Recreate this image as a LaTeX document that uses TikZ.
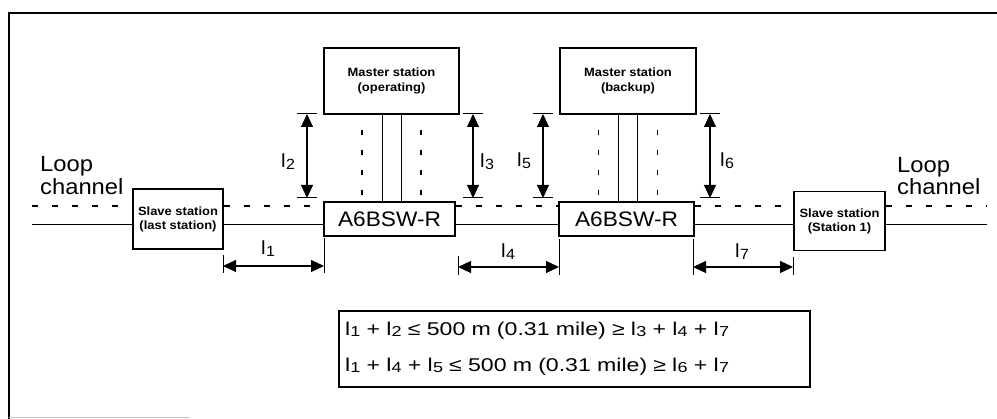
\documentclass[tikz,border=0pt]{standalone}
\usepackage{fontspec}
\setmainfont{Liberation Sans}[FakeStretch=1.08]
\newfontfamily\formfont{Liberation Sans}[FakeStretch=1.25, WordSpace=1.38]
\usetikzlibrary{arrows.meta}
\newcommand{\lsub}[1]{l\kern0.3pt\raisebox{-0.06em}{\scalebox{0.78}{#1}}}
\begin{document}
\begin{tikzpicture}[x=1pt,y=-1pt,
  box/.style={draw, line width=1.2pt, fill=white, inner sep=0pt, align=center},
  mbox/.style={box, minimum height=66pt, font=\bfseries\fontsize{12}{15}\selectfont},
  sbox/.style={box, font=\bfseries\fontsize{12}{14}\selectfont},
  swbox/.style={box, minimum height=34pt, font=\fontsize{21}{24}\selectfont},
  loopline/.style={line width=1pt},
  dashloop/.style={line width=1.2pt, dash pattern=on 6pt off 14pt},
  vdot/.style={line width=1.2pt, dash pattern=on 5pt off 15pt, dash phase=-15pt},
  dimline/.style={line width=1.1pt, {Triangle[length=13pt,width=12pt]}-{Triangle[length=13pt,width=12pt]}},
  tick/.style={line width=1pt},
  lbl/.style={inner sep=0pt, anchor=base west, font=\fontsize{19}{22}\selectfont},
  big/.style={inner sep=0pt, anchor=base west, font=\fontsize{22}{24}\selectfont}
]
\useasboundingbox (0,0) rectangle (997,419);
% frame
\draw[line width=2.5pt] (9,419) -- (9,13) -- (997,13);
\draw[gray!45, line width=1pt] (9,418) -- (190,418);

% nodes
\node[mbox, minimum width=135pt] (mop) at (391.5,81) {Master station\\(operating)};
\node[mbox, minimum width=136pt] (mbk) at (628,81) {Master station\\(backup)};
\node[swbox, minimum width=131pt] (swl) at (389.5,219) {A6BSW-R};
\node[swbox, minimum width=135pt] (swr) at (626.5,219) {A6BSW-R};
\node[sbox, minimum width=90pt, minimum height=60pt] (sl) at (178,219) {Slave station\\(last station)};
\node[sbox, minimum width=91pt, minimum height=59pt] (s1) at (839.5,221) {Slave station\\(Station 1)};

% loop channel labels
\node[big] (loopL) at (40,172) {Loop};
\node[big] (chanL) at (40,195) {channel};
\node[big] (loopR) at (897,173) {Loop};
\node[big] (chanR) at (897,195) {channel};

% solid loop line
\coordinate (LL) at (32,225);
\coordinate (RR) at (987,225);
\draw[loopline] (LL) -- (LL -| sl.west);
\draw[loopline] (sl.east |- LL) -- (swl.west |- LL);
\draw[loopline] (swl.east |- LL) -- (swr.west |- LL);
\draw[loopline] (swr.east |- LL) -- (s1.west |- LL);
\draw[loopline] (s1.east |- LL) -- (RR);

% dashed loop line
\coordinate (DL) at (32,206);
\coordinate (DR) at (987,206);
\draw[dashloop] (DL) -- (DL -| sl.west);
\draw[dashloop] (sl.east |- DL) -- (swl.west |- DL);
\draw[dashloop] (swl.east |- DL) -- (swr.west |- DL);
\draw[dashloop] (swr.east |- DL) -- (s1.west |- DL);
\draw[dashloop] (s1.east |- DL) -- (DR);

% master to switch links
\foreach \m/\s in {mop/swl, mbk/swr}{
  \draw[loopline] ([xshift=-9.5pt]\m.south) -- ([xshift=-9.5pt]\m.south |- \s.north);
  \draw[loopline] ([xshift=9.5pt]\m.south) -- ([xshift=9.5pt]\m.south |- \s.north);
  \draw[vdot] ([xshift=-29.5pt]\m.south) -- ([xshift=-29.5pt]\m.south |- \s.north);
  \draw[vdot] ([xshift=29.5pt]\m.south) -- ([xshift=29.5pt]\m.south |- \s.north);
}

% vertical dimensions
\foreach \n/\x in {2/307, 3/473, 5/543, 6/710}{
  \coordinate (v\n t) at (\x,114);
  \coordinate (v\n b) at (\x,198);
  \draw[dimline] (v\n t) -- (v\n b);
  \draw[tick] ([xshift=-10pt]v\n t) -- ([xshift=10pt]v\n t);
  \draw[tick] ([xshift=-10pt]v\n b) -- ([xshift=10pt]v\n b);
}
\node[lbl] (l2) at (281,168) {\lsub{2}};
\node[lbl] (l3) at (480,168) {\lsub{3}};
\node[lbl] (l5) at (517,167) {\lsub{5}};
\node[lbl] (l6) at (720,167) {\lsub{6}};

% horizontal dimensions
\coordinate (h1a) at (223,266); \coordinate (h1b) at (324,266);
\draw[dimline] (h1a) -- (h1b);
\draw[tick] (223,255) -- (223,273);
\draw[tick] (324,238) -- (324,273);
\node[lbl] (l1) at (261,255) {\lsub{1}};

\coordinate (h4a) at (458,267); \coordinate (h4b) at (559,267);
\draw[dimline] (h4a) -- (h4b);
\draw[tick] (458,256) -- (458,275);
\draw[tick] (559,239) -- (559,275);
\node[lbl] (l4) at (501,258) {\lsub{4}};

\coordinate (h7a) at (693,267); \coordinate (h7b) at (793,267);
\draw[dimline] (h7a) -- (h7b);
\draw[tick] (693,239) -- (693,275);
\draw[tick] (793,257) -- (793,275);
\node[lbl] (l7) at (735,258) {\lsub{7}};

% formula box
\node[draw, line width=1.2pt, minimum height=76pt, text width=459pt, inner xsep=6pt,
      align=left, font=\formfont\fontsize{18.5}{36}\selectfont] (fbox) at (574.5,349)
  {\lsub{1} + \lsub{2} ≤ 500 m (0.31 mile) ≥ \lsub{3} + \lsub{4} + \lsub{7}\\
   \lsub{1} + \lsub{4} + \lsub{5} ≤ 500 m (0.31 mile) ≥ \lsub{6} + \lsub{7}};
\end{tikzpicture}
\end{document}
